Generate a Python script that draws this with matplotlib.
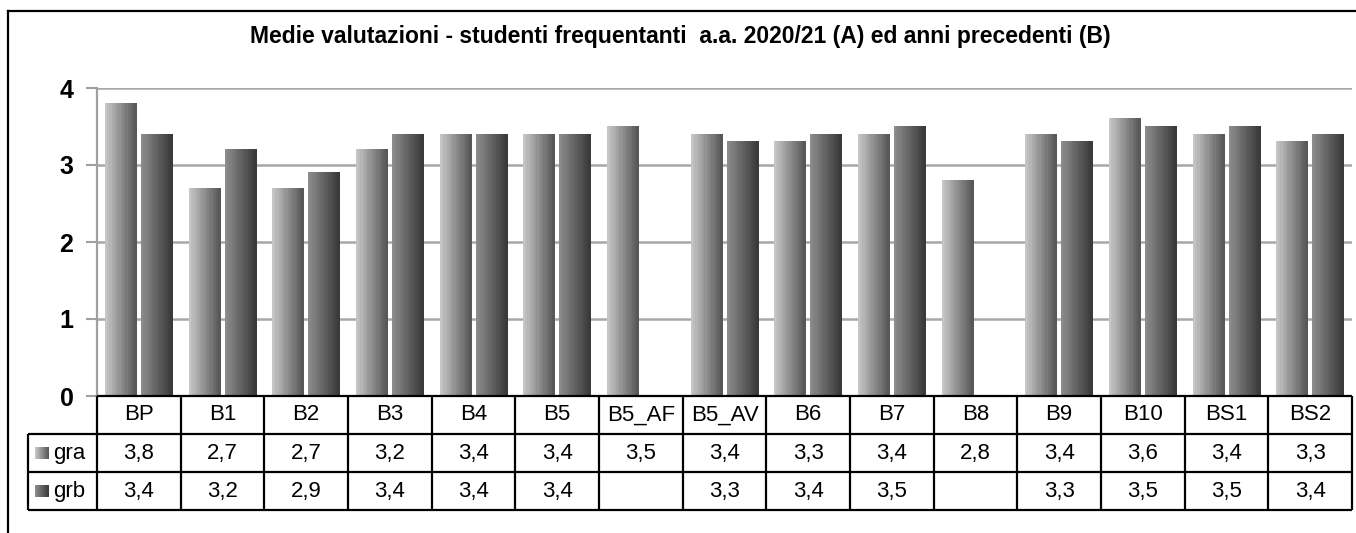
import numpy as np
import matplotlib
matplotlib.use('Agg')
from matplotlib import pyplot as plt
from matplotlib.colors import LinearSegmentedColormap

categories = ['BP', 'B1', 'B2', 'B3', 'B4', 'B5', 'B5_AF', 'B5_AV', 'B6', 'B7',
              'B8', 'B9', 'B10', 'BS1', 'BS2']
gra = [3.8, 2.7, 2.7, 3.2, 3.4, 3.4, 3.5, 3.4, 3.3, 3.4, 2.8, 3.4, 3.6, 3.4, 3.3]
grb = [3.4, 3.2, 2.9, 3.4, 3.4, 3.4, None, 3.3, 3.4, 3.5, None, 3.3, 3.5, 3.5, 3.4]
series_names = ['gra', 'grb']
y_ticks = [0, 1, 2, 3, 4]
title = 'Medie valutazioni - studenti frequentanti  a.a. 2020/21 (A) ed anni precedenti (B)'

plt.rcParams['font.family'] = ['Liberation Sans', 'DejaVu Sans']

W, H = 1356, 533
fig = plt.figure(figsize=(W / 100, H / 100), dpi=100)

cmap_a = LinearSegmentedColormap.from_list('gra', ['#c6c6c6', '#585858'], N=14)
cmap_b = LinearSegmentedColormap.from_list('grb', ['#8c8c8c', '#3a3a3a'], N=14)
grad = np.linspace(0, 1, 64).reshape(1, -1)


def _num_(vals):
    return np.array([np.nan if v is None else v for v in vals], dtype=float)


def _fmt_(v):
    return '' if v is None else f'{v:.1f}'.replace('.', ',')


def gradient_bars(ax, bars, cmap):
    for b in bars:
        h = b.get_height()
        if not np.isfinite(h):
            continue
        x, w = b.get_x(), b.get_width()
        ax.imshow(grad, cmap=cmap, extent=[x, x + w, 0, h], aspect='auto',
                  interpolation='nearest', zorder=3)
        b.set_visible(False)


# outer frame
fig.add_artist(plt.Line2D([8 / W, 8 / W], [0, 1 - 11 / H], color='black', lw=1.6))
fig.add_artist(plt.Line2D([8 / W, 1], [1 - 11 / H, 1 - 11 / H], color='black', lw=1.6))

fig.text(680 / W, 1 - 37 / H, title, ha='center', va='center',
         fontsize=16.5, fontweight='bold')

# main chart
ax = fig.add_axes([97 / W, (H - 396) / H, (1352 - 97) / W, (396 - 88) / H])
x = np.arange(len(categories))
bars_a = ax.bar(x - 0.215, _num_(gra), width=0.38)
bars_b = ax.bar(x + 0.215, _num_(grb), width=0.38)
gradient_bars(ax, bars_a, cmap_a)
gradient_bars(ax, bars_b, cmap_b)

ax.set_xlim(-0.5, len(categories) - 0.5)
ax.set_ylim(0, 4)
ax.set_yticks(y_ticks)
ax.set_xticks([])
ax.yaxis.grid(True, color='#a8a8a8', lw=1.8)
ax.set_axisbelow(True)
for s in ['top', 'right', 'bottom']:
    ax.spines[s].set_visible(False)
ax.spines['left'].set_color('#a0a0a0')
ax.spines['left'].set_linewidth(1.6)
ax.tick_params(axis='y', length=8, width=1.5, color='#a0a0a0', pad=9, labelsize=18)
for lab in ax.get_yticklabels():
    lab.set_fontweight('bold')

# data table
unit = (1352 - 97) / len(categories)
x0 = -0.5 - 69 / unit
tax = fig.add_axes([28 / W, (H - 510) / H, (1352 - 28) / W, (510 - 396) / H])
tax.set_xlim(x0, len(categories) - 0.5)
tax.set_ylim(0, 3)
tax.axis('off')

lk = dict(color='black', lw=1.6, clip_on=False)
right = len(categories) - 0.5
tax.hlines([0, 1, 2], x0, right, **lk)
tax.hlines(3, -0.5, right, **lk)
tax.vlines(np.arange(len(categories) + 1) - 0.5, 0, 3, **lk)
tax.vlines(x0, 0, 2, **lk)

fs = 16
for i, c in enumerate(categories):
    tax.text(i, 2.5, c, ha='center', va='center', fontsize=fs)
    tax.text(i, 1.5, _fmt_(gra[i]), ha='center', va='center', fontsize=fs)
    tax.text(i, 0.5, _fmt_(grb[i]), ha='center', va='center', fontsize=fs)

for row, name, cmap in [(1.5, series_names[0], cmap_a), (0.5, series_names[1], cmap_b)]:
    kx = x0 + 7 / unit
    tax.imshow(grad, cmap=cmap, extent=[kx, kx + 13 / unit, row - 0.15, row + 0.15],
               aspect='auto', interpolation='nearest')
    tax.text(x0 + 25 / unit, row, name, ha='left', va='center', fontsize=fs)
tax.set_xlim(x0, right)
tax.set_ylim(0, 3)

fig.savefig('out.png', dpi=100)
